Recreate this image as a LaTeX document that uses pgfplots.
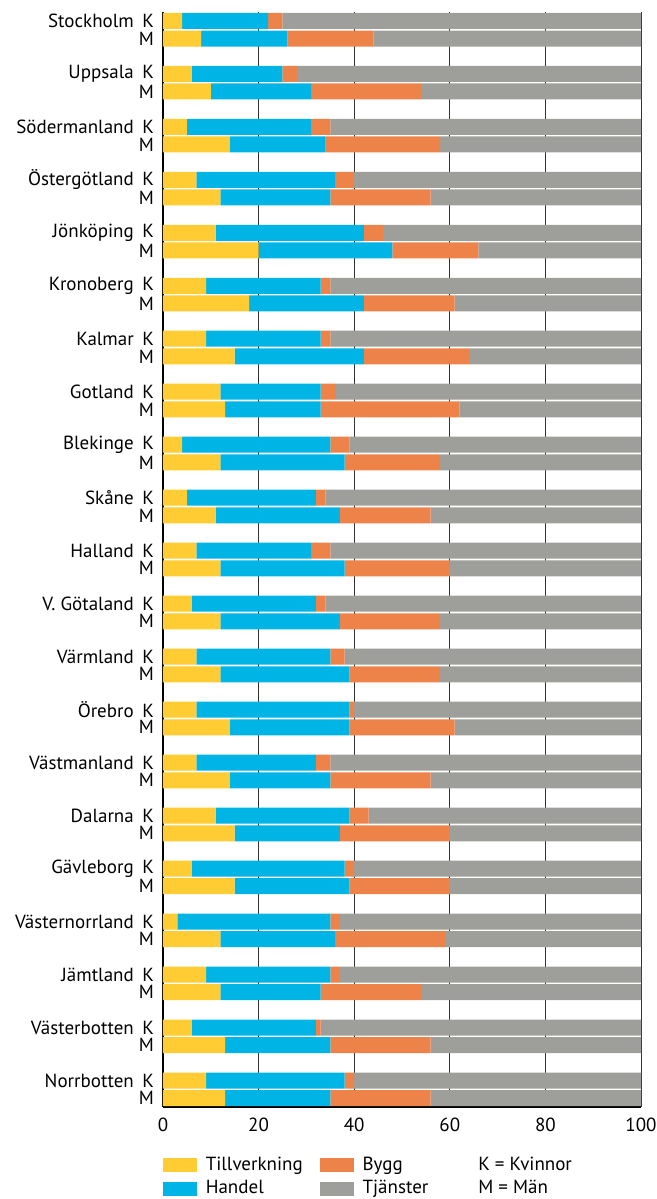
\documentclass[border=0pt]{standalone}
\usepackage{fontspec}
\setmainfont{PT Sans}
\usepackage{pgfplots}
\pgfplotsset{compat=1.18}
\usepackage{pgfplotstable}

\definecolor{tillv}{HTML}{FFCD33}
\definecolor{handel}{HTML}{00B5E6}
\definecolor{bygg}{HTML}{EE8349}
\definecolor{tjanst}{HTML}{9E9E9A}

% y: K = 3i, M = 3i+1
\pgfplotstableread{
y  T  H  B  S
0  4  18 3  75
1  8  18 18 56
3  6  19 3  72
4  10 21 23 46
6  5  26 4  65
7  14 20 24 42
9  7  29 4  60
10 12 23 21 44
12 11 31 4  54
13 20 28 18 34
15 9  24 2  65
16 18 24 19 39
18 9  24 2  65
19 15 27 22 36
21 12 21 3  64
22 13 20 29 38
24 4  31 4  61
25 12 26 20 42
27 5  27 2  66
28 11 26 19 44
30 7  24 4  65
31 12 26 22 40
33 6  26 2  66
34 12 25 21 42
36 7  28 3  62
37 12 27 19 42
39 7  32 1  60
40 14 25 22 39
42 7  25 3  65
43 14 21 21 44
45 11 28 4  57
46 15 22 23 40
48 6  32 2  60
49 15 24 21 40
51 3  32 2  63
52 12 24 23 41
54 9  26 2  63
55 12 21 21 46
57 6  26 1  67
58 13 22 21 44
60 9  29 2  60
61 13 22 21 44
}\data

\newcommand{\lbl}[1]{#1\hspace{0.45em}K}

\begin{document}
\begin{tikzpicture}
\useasboundingbox (-81.5pt,-46pt) rectangle (247pt,553.5pt);
\begin{axis}[
  scale only axis,
  width=239pt, height=547.5pt,
  xbar stacked,
  bar width=8pt,
  y dir=reverse,
  xmin=0, xmax=100,
  ymin=-0.5, ymax=61.5,
  axis lines*=left,
  axis line style={black, line width=0.7pt},
  xtick={0,20,40,60,80,100},
  xmajorgrids,
  grid style={black!80, line width=0.45pt},
  major tick length=0pt,
  ytick={0,1,3,4,6,7,9,10,12,13,15,16,18,19,21,22,24,25,27,28,30,31,33,34,36,37,39,40,42,43,45,46,48,49,51,52,54,55,57,58,60,61},
  yticklabels={\lbl{Stockholm},M,\lbl{Uppsala},M,\lbl{Södermanland},M,\lbl{Östergötland},M,\lbl{Jönköping},M,\lbl{Kronoberg},M,\lbl{Kalmar},M,\lbl{Gotland},M,\lbl{Blekinge},M,\lbl{Skåne},M,\lbl{Halland},M,\lbl{V. Götaland},M,\lbl{Värmland},M,\lbl{Örebro},M,\lbl{Västmanland},M,\lbl{Dalarna},M,\lbl{Gävleborg},M,\lbl{Västernorrland},M,\lbl{Jämtland},M,\lbl{Västerbotten},M,\lbl{Norrbotten},M},
  /pgf/number format/assume math mode=true,
  tick label style={font=\fontsize{9.5}{11}\selectfont},
  y tick label style={xshift=-1pt},
  x tick label style={yshift=-2pt},
  legend columns=3,
  legend style={at={(0,0)}, anchor=north west, yshift=-25pt,
    draw=none, inner sep=0pt, outer sep=0pt, row sep=3.5pt,
    font=\fontsize{9.5}{11}\selectfont,
    nodes={inner sep=0pt, anchor=west},
    /tikz/every odd column/.append style={column sep=4.5pt},
    /tikz/every even column/.append style={column sep=8.5pt}},
]
\addplot[forget plot, fill=tillv, draw=none] table[x=T, y=y]{\data};
\addplot[forget plot, fill=handel, draw=none] table[x=H, y=y]{\data};
\addplot[forget plot, fill=bygg, draw=none] table[x=B, y=y]{\data};
\addplot[forget plot, fill=tjanst, draw=none] table[x=S, y=y]{\data};

\addlegendimage{legend image code/.code={\fill[tillv] (0pt,-3.25pt) rectangle (16.5pt,3.25pt);}}
\addlegendentry{Tillverkning}
\addlegendimage{legend image code/.code={\fill[bygg] (0pt,-3.25pt) rectangle (16.5pt,3.25pt);}}
\addlegendentry{Bygg}
\addlegendimage{empty legend}
\addlegendentry{\hspace*{12pt}K = Kvinnor}
\addlegendimage{legend image code/.code={\fill[handel] (0pt,-3.25pt) rectangle (16.5pt,3.25pt);}}
\addlegendentry{Handel}
\addlegendimage{legend image code/.code={\fill[tjanst] (0pt,-3.25pt) rectangle (16.5pt,3.25pt);}}
\addlegendentry{Tjänster}
\addlegendimage{empty legend}
\addlegendentry{\hspace*{12pt}M = Män}
\end{axis}
\end{tikzpicture}
\end{document}
